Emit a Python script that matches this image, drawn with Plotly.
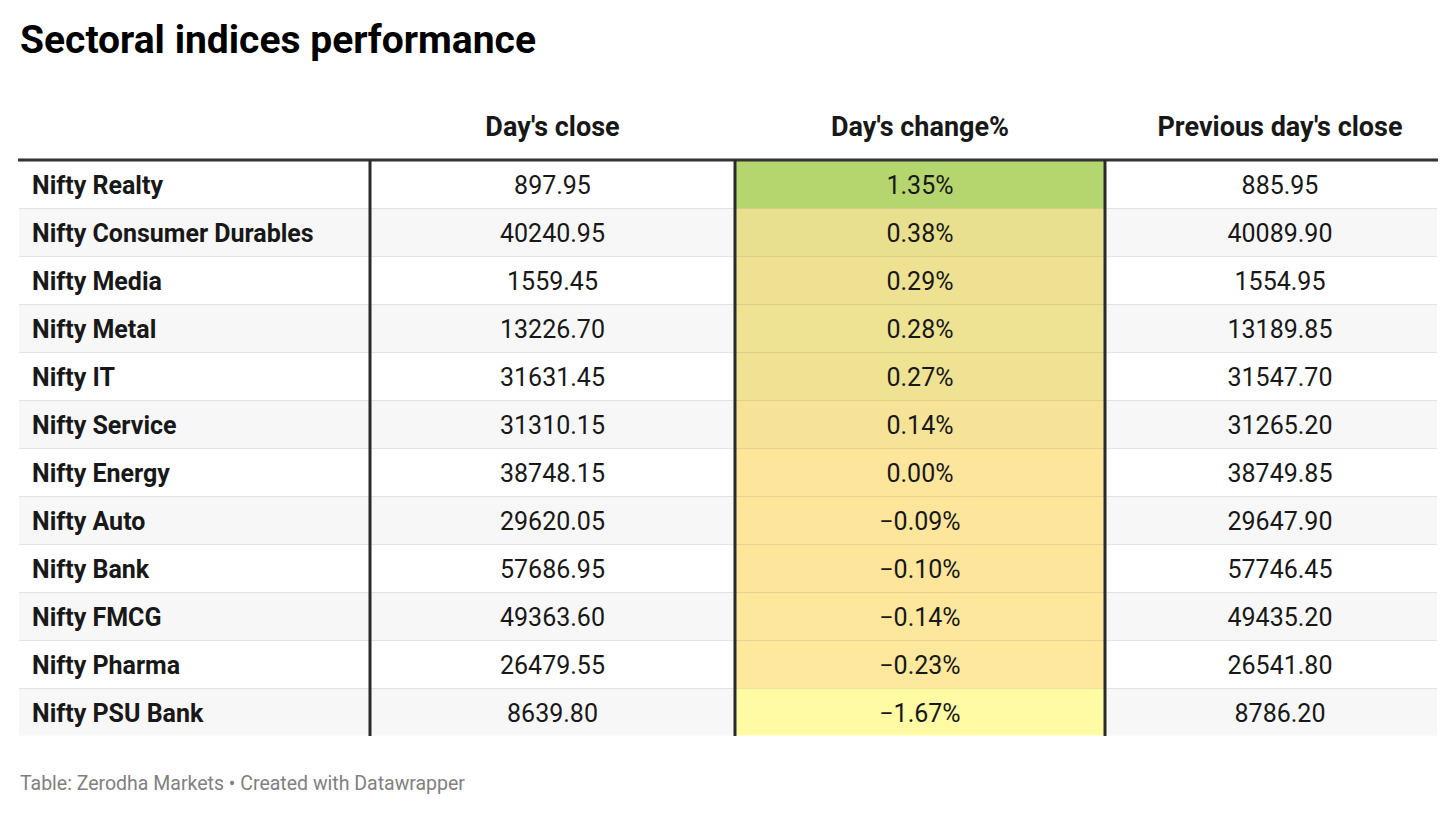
import plotly.graph_objects as go
from plotly.colors import sample_colorscale, unlabel_rgb

# table data
indices = ["Nifty Realty", "Nifty Consumer Durables", "Nifty Media", "Nifty Metal",
           "Nifty IT", "Nifty Service", "Nifty Energy", "Nifty Auto", "Nifty Bank",
           "Nifty FMCG", "Nifty Pharma", "Nifty PSU Bank"]
days_close = [897.95, 40240.95, 1559.45, 13226.70, 31631.45, 31310.15,
              38748.15, 29620.05, 57686.95, 49363.60, 26479.55, 8639.80]
change_pct = [1.35, 0.38, 0.29, 0.28, 0.27, 0.14, 0.00, -0.09, -0.10, -0.14, -0.23, -1.67]
prev_close = [885.95, 40089.90, 1554.95, 13189.85, 31547.70, 31265.20,
              38749.85, 29647.90, 57746.45, 49435.20, 26541.80, 8786.20]
headers = ["", "Day's close", "Day's change%", "Previous day's close"]

W, H = 1456, 813
OFF = 8  # page margin of the html body
LEFT, RIGHT = 18, 1438
TOP = 100
HEADER_H = 60
ROW_H = 48
TEXT_SHIFT = 3
col_widths = [352, 365, 370, 333]
# text layer columns (slightly different so the labels sit where they should)
TEXT_LEFT = 24
text_widths = [346, 365, 370, 350]
n = len(indices)


def px_x(v):
    return (v - OFF) / W


def px_y(v):
    return 1 - (v - OFF) / H


def fmt(v):
    return f"{v:.2f}".replace("-", "\u2212")


def darker(c, k=0.91):
    r, g, b = unlabel_rgb(c)
    return f"rgb({r * k:.0f},{g * k:.0f},{b * k:.0f})"


# colour scale for the change column: yellow -> peach at zero -> green
lo, hi = min(change_pct), max(change_pct)
mid = (0 - lo) / (hi - lo)
scale = [[0, "#fffaa4"], [mid, "#fde59c"], [1, "#b5d56f"]]
change_colors = sample_colorscale(scale, [(v - lo) / (hi - lo) for v in change_pct])
change_lines = [darker(c) for c in change_colors]

stripe = ["#ffffff" if i % 2 == 0 else "#f7f7f7" for i in range(n)]
grey_lines = ["#e3e3e3"] * n
body_top = TOP + HEADER_H
body_bottom = body_top + ROW_H * n
aligns = ["left", "center", "center", "center"]

# background table: fills and row rules only
fig = go.Figure(go.Table(
    domain=dict(x=[px_x(LEFT), px_x(RIGHT)], y=[px_y(body_bottom + 30), px_y(TOP)]),
    columnwidth=col_widths,
    header=dict(values=[""] * 4, fill_color="white", line=dict(width=0, color="white"), height=HEADER_H),
    cells=dict(values=[[""] * n] * 4,
               fill_color=[stripe, stripe, change_colors, stripe],
               line=dict(width=1, color=[grey_lines, grey_lines, change_lines, grey_lines]),
               height=ROW_H),
))

# text table laid on top
fig.add_trace(go.Table(
    domain=dict(x=[px_x(TEXT_LEFT), px_x(TEXT_LEFT + sum(text_widths))],
                y=[px_y(body_bottom + 30), px_y(TOP + TEXT_SHIFT)]),
    columnwidth=text_widths,
    header=dict(
        values=[f"<b>{h}</b>" for h in headers],
        align=aligns,
        font=dict(family="Roboto", size=27, color="#181818"),
        fill_color="rgba(0,0,0,0)",
        line=dict(width=0, color="rgba(0,0,0,0)"),
        height=HEADER_H,
    ),
    cells=dict(
        values=[[f"<b>{x}</b>" for x in indices],
                [f"<span>{fmt(v)}</span>" for v in days_close],
                [f"<span>{fmt(v)}%</span>" for v in change_pct],
                [f"<span>{fmt(v)}</span>" for v in prev_close]],
        align=aligns,
        font=dict(family="Roboto", size=25, color="#181818"),
        fill_color="rgba(0,0,0,0)",
        line=dict(width=0, color="rgba(0,0,0,0)"),
        height=ROW_H,
    ),
))

# hide the outer cell borders (left, right, bottom)
for x in (LEFT, RIGHT):
    fig.add_shape(type="line", xref="paper", yref="paper",
                  x0=px_x(x), x1=px_x(x), y0=px_y(body_top), y1=px_y(body_bottom + 2),
                  line=dict(color="white", width=2))
fig.add_shape(type="line", xref="paper", yref="paper",
              x0=px_x(LEFT - 1), x1=px_x(RIGHT + 1), y0=px_y(body_bottom + 0.5), y1=px_y(body_bottom + 0.5),
              line=dict(color="white", width=2))

# rule below header
fig.add_shape(type="line", xref="paper", yref="paper",
              x0=px_x(LEFT), x1=px_x(RIGHT), y0=px_y(body_top), y1=px_y(body_top),
              line=dict(color="#333333", width=3))

# thick column separators
edge = LEFT
for w in col_widths[:-1]:
    edge += w
    fig.add_shape(type="line", xref="paper", yref="paper",
                  x0=px_x(edge), x1=px_x(edge), y0=px_y(body_top), y1=px_y(body_bottom),
                  line=dict(color="#2a2a2a", width=3))

fig.add_annotation(text="<b>Sectoral indices performance</b>", xref="paper", yref="paper",
                   x=px_x(LEFT), y=px_y(40), xanchor="left", yanchor="middle", showarrow=False,
                   font=dict(family="Roboto", size=39, color="#000000"))
fig.add_annotation(text="Table: Zerodha Markets \u2022 Created with Datawrapper", xref="paper", yref="paper",
                   x=px_x(LEFT), y=px_y(783), xanchor="left", yanchor="middle", showarrow=False,
                   font=dict(family="Roboto", size=19.5, color="#808080"))

fig.update_layout(width=W, height=H, margin=dict(l=0, r=0, t=0, b=0),
                  paper_bgcolor="white", plot_bgcolor="white")

fig.write_html("out.html")
